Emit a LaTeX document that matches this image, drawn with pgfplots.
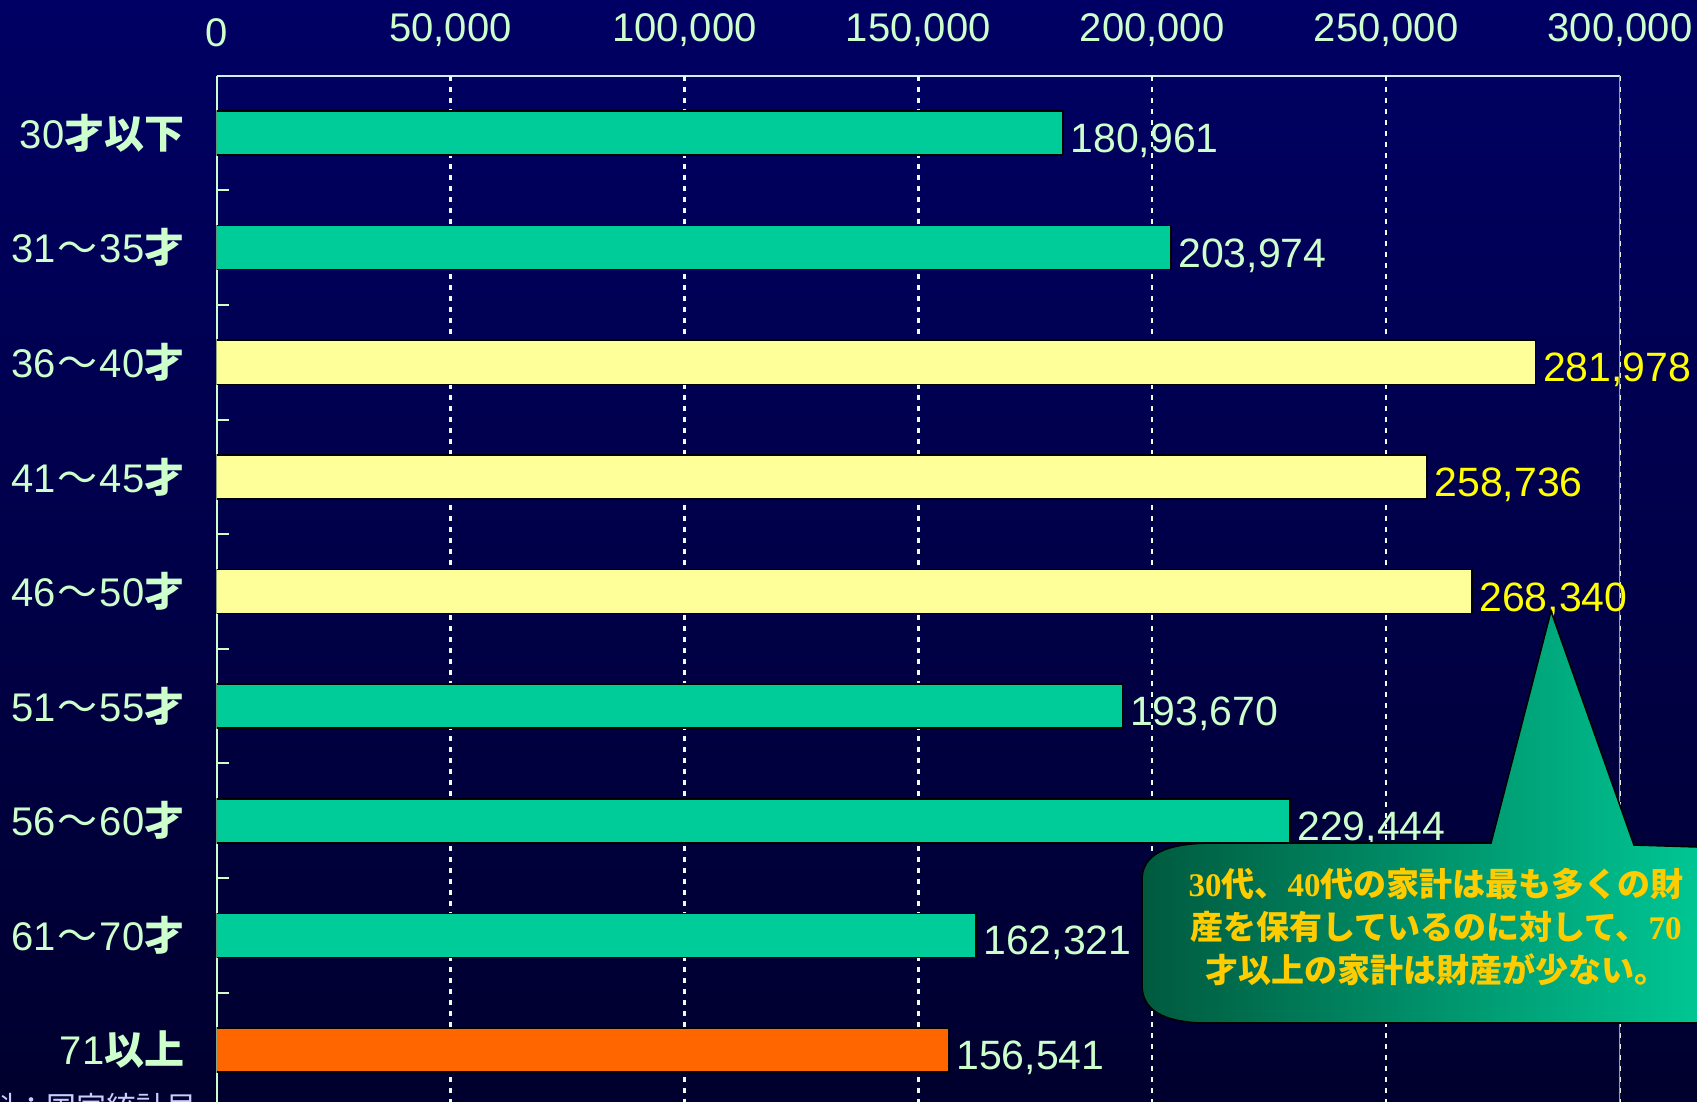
\documentclass[border=0pt]{standalone}
\usepackage{fontspec}
\setmainfont{Liberation Sans}
\newfontfamily\jp{Noto Sans CJK JP}
\newfontfamily\tms{Liberation Serif}
\usepackage{pgfplots}
\pgfplotsset{compat=1.18}
\definecolor{bgtop}{HTML}{000064}
\definecolor{bgbot}{HTML}{00002E}
\definecolor{palegreen}{HTML}{CCFFCC}
\definecolor{barg}{HTML}{00CC99}
\definecolor{bary}{HTML}{FFFF99}
\definecolor{baro}{HTML}{FF6600}
\definecolor{labely}{HTML}{FFFF00}
\definecolor{calltxt}{HTML}{FFCC00}
\definecolor{calldark}{HTML}{005A3E}
\definecolor{callbright}{HTML}{00CC99}
\definecolor{gridc}{HTML}{E6FFEE}
\definecolor{topline}{HTML}{CCEEFF}
\definecolor{srcc}{HTML}{CCCCFF}
\begin{document}
\begin{tikzpicture}
\useasboundingbox (0,0) rectangle (848.5pt,551pt);
\begin{scope}
\clip (0,0) rectangle (848.5pt,551pt);
\shade[top color=bgtop,bottom color=bgbot] (0,0) rectangle (848.5pt,551pt);
\begin{axis}[
  at={(108.25pt,513.1pt)}, anchor=north west,
  scale only axis, width=701.75pt, height=515.7pt,
  xmin=0, xmax=300000, ymin=-0.5, ymax=8.5, y dir=reverse,
  axis x line*=top, axis y line*=left,
  axis line style={-},
  x axis line style={draw=topline, line width=1pt},
  y axis line style={draw=palegreen, line width=1pt},
  xtick={0,50000,100000,150000,200000,250000,300000}, scaled x ticks=false,
  xticklabel style={yshift=11pt, font=\fontsize{20}{20}\selectfont},
  major tick length=0pt,
  tick style={draw=palegreen, line width=1pt},
  ytick={0,1,2,3,4,5,6,7,8},
  yticklabels={
    {30{\jp\bfseries 才以下}},
    {31\hspace{1pt}{\jp ～}\hspace{1pt}35{\jp\bfseries 才}},
    {36\hspace{1pt}{\jp ～}\hspace{1pt}40{\jp\bfseries 才}},
    {41\hspace{1pt}{\jp ～}\hspace{1pt}45{\jp\bfseries 才}},
    {46\hspace{1pt}{\jp ～}\hspace{1pt}50{\jp\bfseries 才}},
    {51\hspace{1pt}{\jp ～}\hspace{1pt}55{\jp\bfseries 才}},
    {56\hspace{1pt}{\jp ～}\hspace{1pt}60{\jp\bfseries 才}},
    {61\hspace{1pt}{\jp ～}\hspace{1pt}70{\jp\bfseries 才}},
    {71{\jp\bfseries 以上}}},
  yticklabel style={xshift=-12.5pt, font=\fontsize{20}{20}\selectfont},
  extra x ticks={50000,100000,150000,200000,250000,300000},
  extra x tick labels={},
  extra x tick style={grid=major, major tick length=0pt},
  major grid style={draw=gridc, line width=1.3pt, dash pattern=on 2.5pt off 3pt},
  extra y ticks={0.5,1.5,2.5,3.5,4.5,5.5,6.5,7.5},
  extra y tick labels={},
  extra y tick style={major tick length=6pt, tick align=inside, grid=none},
  ticklabel style={text=palegreen},
  xbar, bar width=22pt,
  point meta=x,
  nodes near coords,
  nodes near coords align={horizontal},
  every node near coord/.append style={font=\fontsize{20.5}{20.5}\selectfont, anchor=west, yshift=-4pt},
  /pgf/number format/fixed,
  /pgf/number format/precision=0,
  /pgf/number format/1000 sep={,},
  /pgf/number format/assume math mode=true,
]
\addplot[bar shift=0pt, fill=barg, draw=black, line width=0.8pt,
  every node near coord/.append style={text=palegreen}]
  coordinates {(180961,0) (203974,1) (193670,5) (229444,6) (162321,7)};
\addplot[bar shift=0pt, fill=bary, draw=black, line width=0.8pt,
  every node near coord/.append style={text=labely}]
  coordinates {(281978,2) (258736,3) (268340,4)};
\addplot[bar shift=0pt, fill=baro, draw=black, line width=0.8pt,
  every node near coord/.append style={text=palegreen}]
  coordinates {(156541,8)};
\draw[draw=gray!80, line width=0.8pt] (axis cs:300000,-0.5) -- (axis cs:300000,8.5);
\end{axis}
\begin{scope}[shift={(0,551pt)}, x=0.5pt, y=-0.5pt]
\path[draw=black, line width=0.8pt, left color=calldark, right color=callbright]
  (1491,843) -- (1551,611) -- (1634,845) -- (1730,848) -- (1730,1023) -- (1200,1023)
  .. controls (1155,1021) and (1142,1005) .. (1142,985) -- (1142,880)
  .. controls (1142,855) and (1164,843) .. (1214,843) -- cycle;
\node[text=calltxt, align=center, font=\jp\bfseries\fontsize{16.5}{21.6}\selectfont] at (1436,927)
  {{\tms\bfseries 30}代、{\tms\bfseries 40}代の家計は最も多くの財\\産を保有しているのに対して、{\tms\bfseries 70}\\才以上の家計は財産が少ない。};
\node[anchor=north west, inner sep=0pt, text=srcc, font=\jp\fontsize{15}{15}\selectfont] at (-44,1093) {資料：国家統計局};
\end{scope}
\end{scope}
\end{tikzpicture}
\end{document}
